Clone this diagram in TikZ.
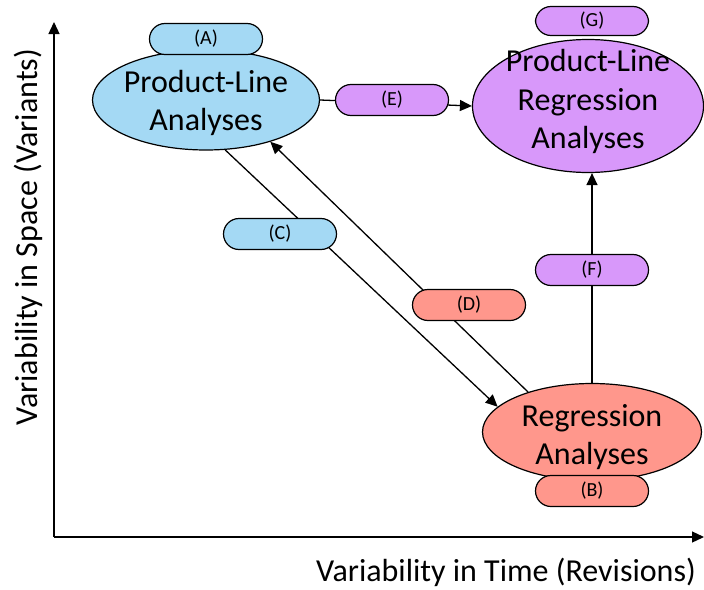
\documentclass[tikz,border=0pt]{standalone}
\usepackage{fontspec}
\setmainfont{Carlito}
\usepackage{xcolor}
\usepackage{tikz}
\usetikzlibrary{shapes.geometric}
\usetikzlibrary{arrows.meta}

\definecolor{plblue}{HTML}{A4D9F4}
\definecolor{plrpurple}{HTML}{D898FA}
\definecolor{rared}{HTML}{FF978C}

\begin{document}
\begin{tikzpicture}[x=1pt,y=-1pt,
        oval/.style={ellipse,draw,line width=1.2pt,inner sep=-15pt,align=center,font=\fontsize{32}{38.5}\selectfont},
        pill/.style={rectangle,rounded corners=15.5pt,draw,line width=1.2pt,minimum width=113pt,minimum height=31pt,inner sep=0pt,font=\fontsize{20}{24}\selectfont},
        conn/.style={line width=1.3pt,-{Triangle[length=12pt,width=11pt]}}]
        \useasboundingbox (0,0) rectangle (704,589);

        % axes
        \coordinate (o) at (54,537);
        \coordinate (ytip) at (54,22);
        \coordinate (xtip) at (704,537);
        \draw[conn] (o)--(ytip);
        \draw[conn] (o)--(xtip);
        \node[rotate=90,inner sep=1pt,font=\fontsize{32}{38}\selectfont] (ylab) at (28,237) {Variability in Space (Variants)};
        \node[inner sep=1pt,font=\fontsize{32}{38}\selectfont] (xlab) at (506,572) {Variability in Time (Revisions)};

        % analyses
        \node[oval,fill=plblue,minimum width=227pt,minimum height=100pt] (pl) at (206,100) {\rule{0pt}{28.5pt}Product-Line\\Analyses};
        \node[oval,fill=plrpurple,minimum width=231pt,minimum height=133pt] (plr) at (588,106) {Product-Line\\Regression\\Analyses\rule[-14pt]{0pt}{0pt}};
        \node[oval,fill=rared,minimum width=219pt,minimum height=97pt] (ra) at (592,432) {\rule{0pt}{32pt}Regression\\Analyses};

        % transitions
        \draw[conn] (pl.east)--(plr.west);
        \draw[conn] (ra.north)--(ra.north |- plr.south);
        \draw[conn] (pl.-69)--(ra.165);
        \draw[conn] (ra.148)--(pl.-33);

        % labels
        \node[pill,fill=plblue] (a) at (206,39) {(A)};
        \node[pill,fill=rared] (b) at (592,491) {(B)};
        \node[pill,fill=plblue] (c) at (280,234) {(C)};
        \node[pill,fill=rared] (d) at (469,305) {(D)};
        \node[pill,fill=plrpurple] (e) at (392,100) {(E)};
        \node[pill,fill=plrpurple] (f) at (592,270) {(F)};
        \node[pill,fill=plrpurple,minimum height=29pt] (g) at (592,21) {(G)};
\end{tikzpicture}
\end{document}
